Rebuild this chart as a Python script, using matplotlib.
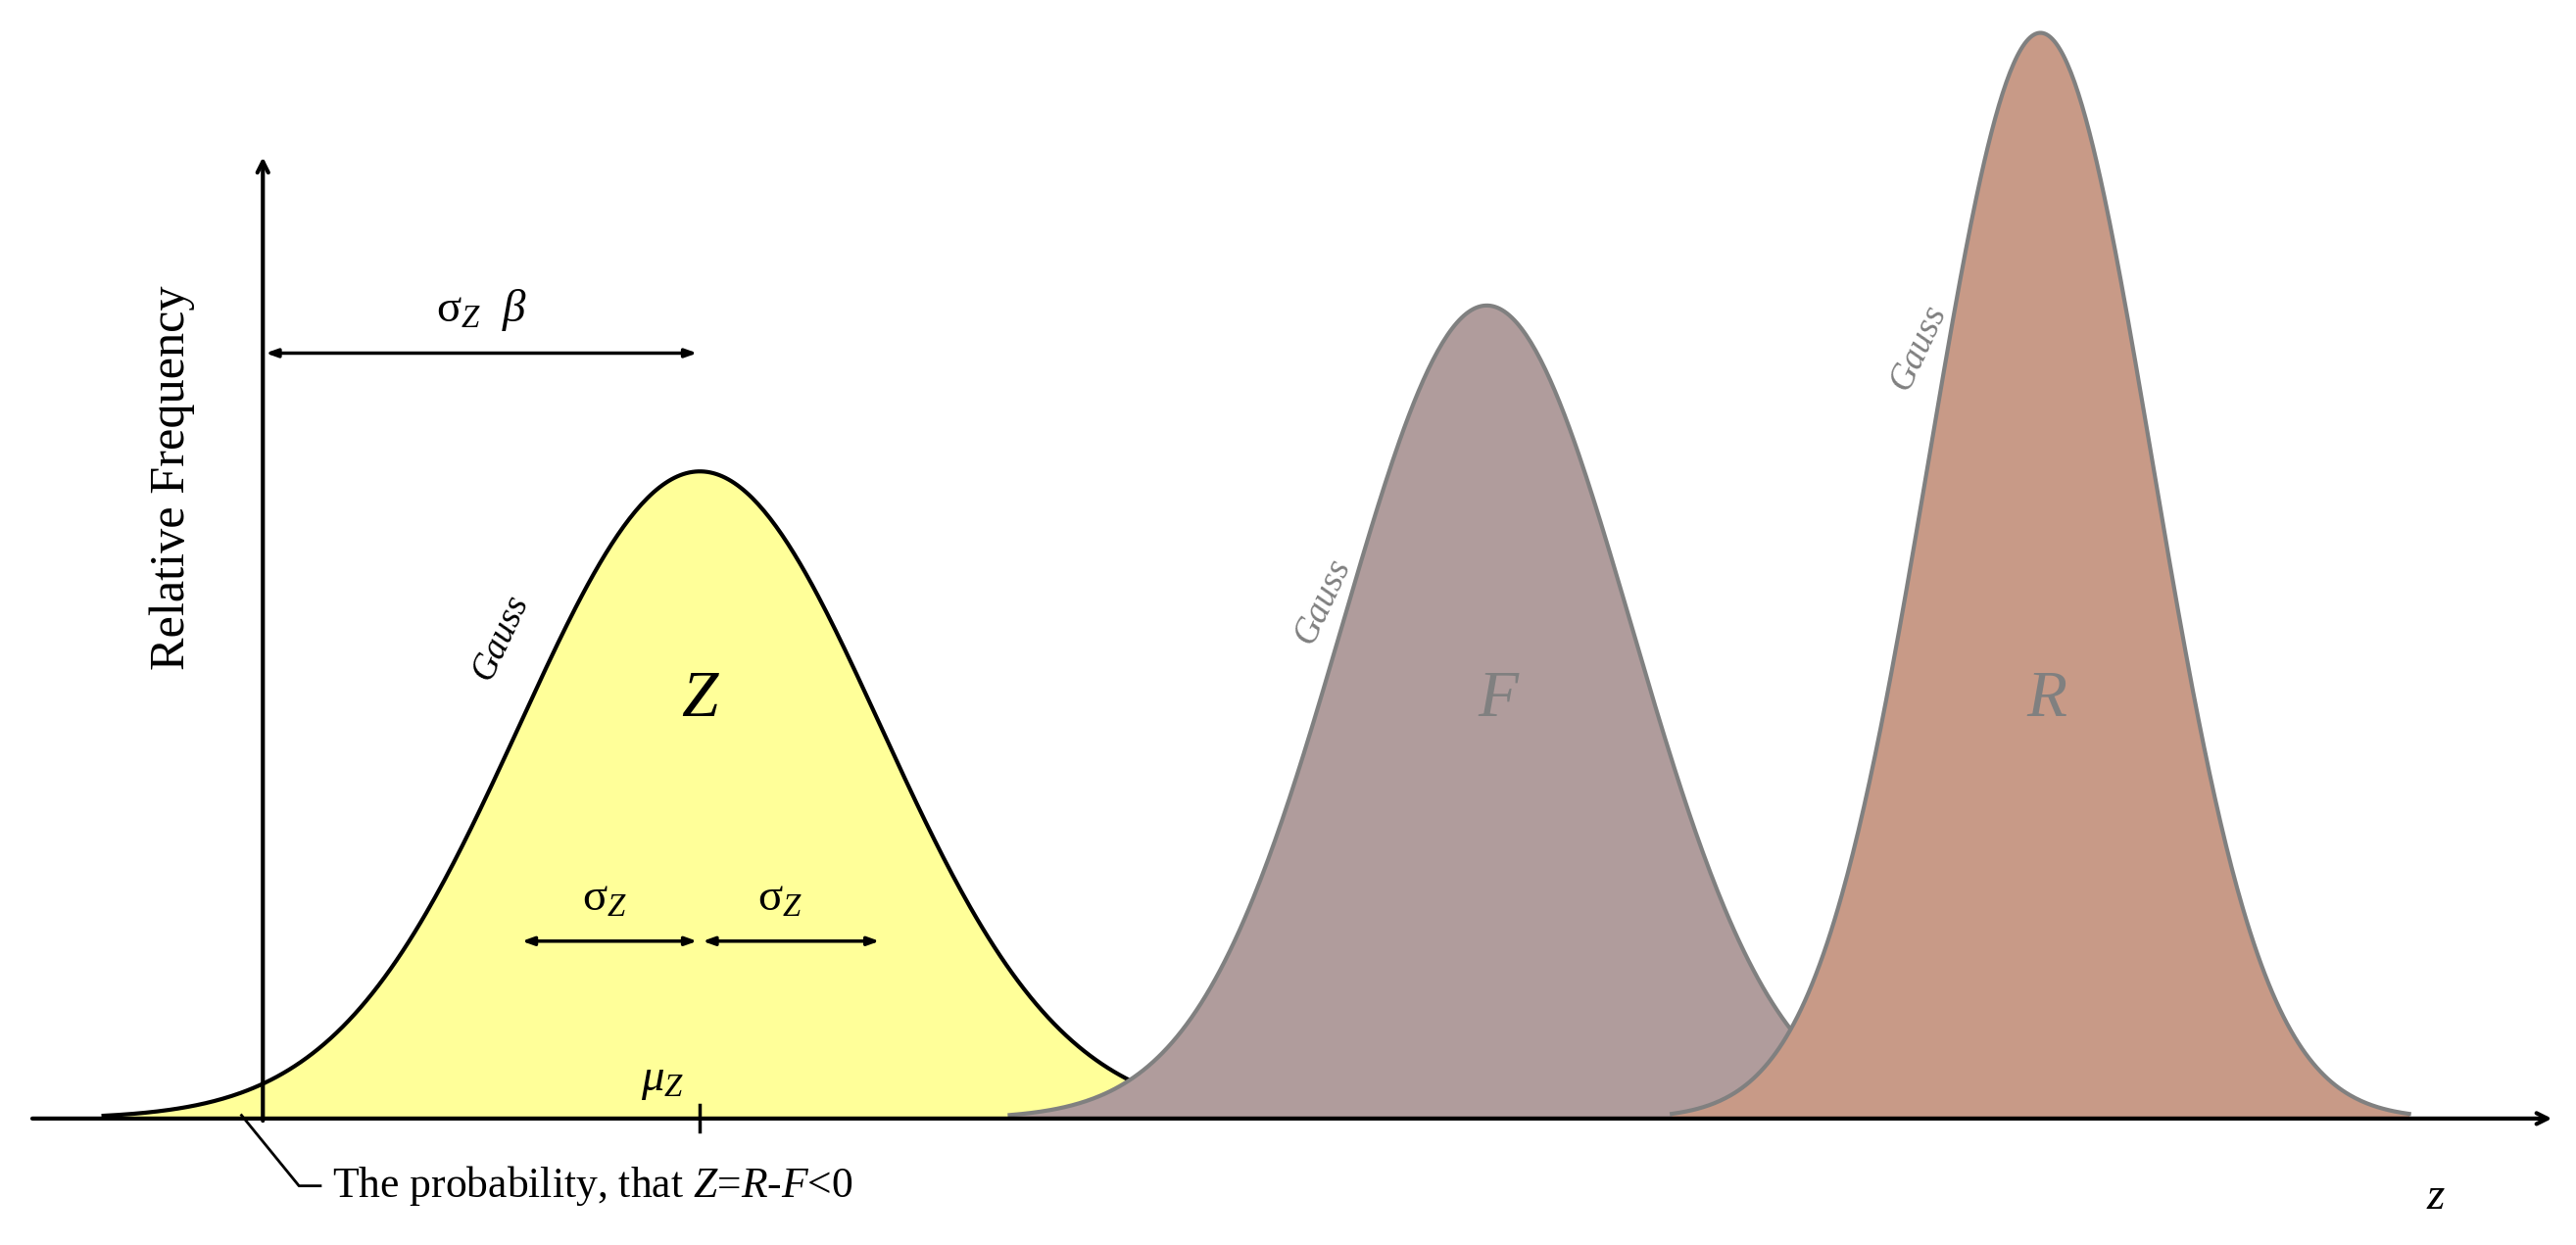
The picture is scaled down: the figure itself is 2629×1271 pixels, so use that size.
import numpy as np
import matplotlib
matplotlib.use("Agg")
import matplotlib.pyplot as plt

plt.rcParams['font.family'] = ['Liberation Serif', 'DejaVu Serif']
plt.rcParams['mathtext.fontset'] = 'custom'
plt.rcParams['mathtext.rm'] = 'Liberation Serif'
plt.rcParams['mathtext.it'] = 'Liberation Serif:italic'

names = ['Z', 'F', 'R']
means = [426, 905, 1242]
sigmas = [110, 88, 68]
peaks = [394, 495, 661]
faces = ['#ffff99', '#b09c9c', '#c89a87']
edges = ['#000000', '#808080', '#808080']
label_pos = [(426, 255), (912, 255), (1246, 255)]
gauss_pos = [(305, 293), (805, 315), (1168, 470)]

fig = plt.figure(figsize=(26.29, 12.71), dpi=100)
ax = fig.add_axes([0, 0, 1, 1])
ax.set_xlim(0, 1568)
ax.set_ylim(-77, 681)
ax.axis('off')

K = 1.677 * 0.72
for i, n in enumerate(names):
    x = np.linspace(means[i] - 3.3 * sigmas[i], means[i] + 3.3 * sigmas[i], 400)
    y = peaks[i] * np.exp(-0.5 * ((x - means[i]) / sigmas[i]) ** 2)
    ax.fill_between(x, 0, y, color=faces[i], zorder=2 + i, lw=0)
    ax.plot(x, y, color=edges[i], lw=3, zorder=2 + i)
    ax.text(*label_pos[i], n, style='italic', fontsize=40 * K, color=edges[i] if i else 'black',
            ha='center', va='center', zorder=10)
    ax.text(*gauss_pos[i], 'Gauss', style='italic', fontsize=22 * K, rotation=65,
            color=edges[i] if i else 'black', ha='center', va='center', zorder=10)

ap = dict(arrowstyle='->,head_length=0.8,head_width=0.4', lw=3, color='black')
ap2 = dict(arrowstyle='<|-|>,head_length=0.7,head_width=0.25', lw=2.5, color='black')
# axes
ax.annotate('', xy=(1555, 0), xytext=(18, 0), arrowprops=ap, zorder=20)
ax.annotate('', xy=(160, 587), xytext=(160, -3), arrowprops=ap, zorder=20)
ax.text(105, 390, 'Relative Frequency', rotation=90, fontsize=30 * K, ha='center', va='center')
ax.text(1483, -48, '$z$', fontsize=28 * K, ha='center', va='center')
# sigma beta
ax.annotate('', xy=(160, 466), xytext=(426, 466), arrowprops=ap2, zorder=20)
ax.text(293, 492, r'$\mathrm{\sigma}_Z\ \ \beta$', fontsize=28 * K, ha='center', va='center')
# sigma arrows
ax.annotate('', xy=(316, 108), xytext=(426, 108), arrowprops=ap2, zorder=20)
ax.annotate('', xy=(537, 108), xytext=(426, 108), arrowprops=ap2, zorder=20)
ax.text(368, 133, r'$\mathrm{\sigma}_Z$', fontsize=28 * K, ha='center', va='center', zorder=20)
ax.text(475, 133, r'$\mathrm{\sigma}_Z$', fontsize=28 * K, ha='center', va='center', zorder=20)
ax.text(403, 23, r'$\mu_Z$', fontsize=28 * K, ha='center', va='center', zorder=20)
ax.plot([426, 426], [-8, 8], color='black', lw=2.5, zorder=20)
# probability annotation
ax.plot([147, 182, 195], [2, -41, -41], color='black', lw=2, zorder=20)
ax.text(202, -41, 'The probability, that $Z$=$R$-$F$<0', fontsize=26 * K, ha='left', va='center')

fig.savefig('out.png', dpi=100)
